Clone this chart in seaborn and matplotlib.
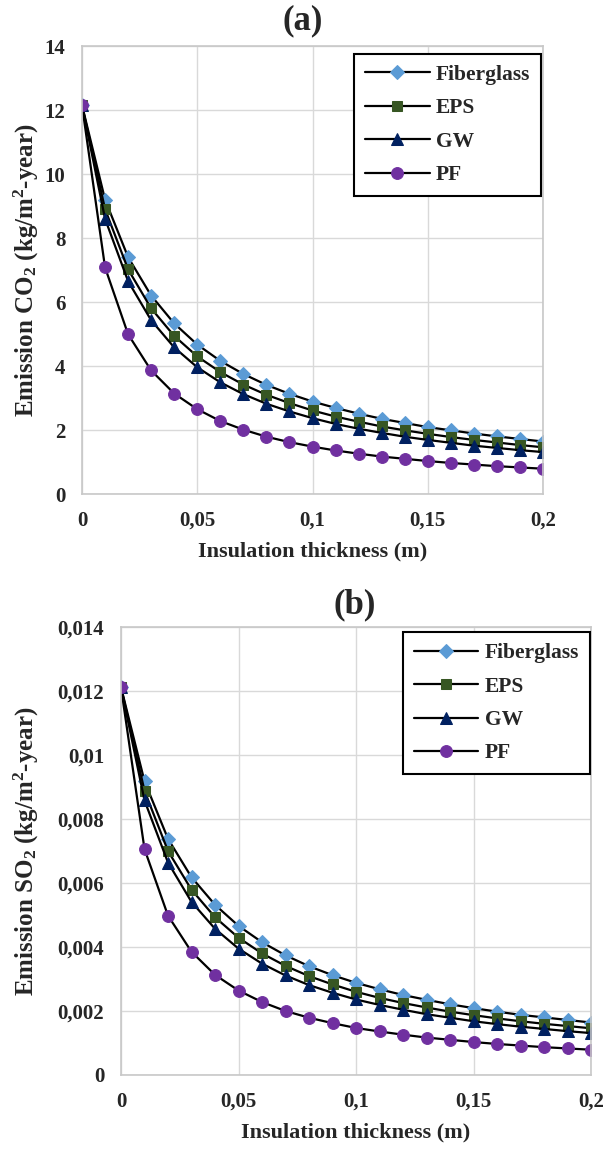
import pandas as pd
import matplotlib.pyplot as plt
import seaborn as sns
import matplotlib.ticker as ticker

#-------------------------------------------------------------------------------------
# Data (insulation thickness in m, emissions per m2 and year)
#-------------------------------------------------------------------------------------
thickness = [0, 0.01, 0.02, 0.03, 0.04, 0.05, 0.06, 0.07, 0.08, 0.09, 0.10,
             0.11, 0.12, 0.13, 0.14, 0.15, 0.16, 0.17, 0.18, 0.19, 0.20]

materials = ["Fiberglass", "EPS", "GW", "PF"]

co2_fiberglass = [12.15, 9.20, 7.40, 6.20, 5.33, 4.67, 4.16, 3.75, 3.41, 3.13, 2.89,
                  2.69, 2.51, 2.35, 2.22, 2.09, 1.99, 1.89, 1.80, 1.72, 1.64]
co2_eps = [12.15, 8.90, 7.02, 5.80, 4.94, 4.30, 3.81, 3.42, 3.10, 2.84, 2.61,
           2.42, 2.26, 2.11, 1.99, 1.88, 1.78, 1.69, 1.61, 1.53, 1.46]
co2_gw = [12.15, 8.60, 6.65, 5.43, 4.58, 3.96, 3.49, 3.12, 2.82, 2.58, 2.37,
          2.19, 2.04, 1.91, 1.79, 1.69, 1.60, 1.51, 1.44, 1.37, 1.31]
co2_pf = [12.15, 7.08, 4.99, 3.86, 3.14, 2.65, 2.28, 2.01, 1.79, 1.62, 1.48,
          1.36, 1.26, 1.17, 1.10, 1.03, 0.97, 0.92, 0.87, 0.83, 0.79]

so2_fiberglass = [0.01212, 0.00918, 0.00738, 0.00618, 0.00532, 0.00466, 0.00415, 0.00374,
                  0.00340, 0.00312, 0.00288, 0.00268, 0.00250, 0.00235, 0.00221, 0.00209,
                  0.00198, 0.00188, 0.00180, 0.00172, 0.00164]
so2_eps = [0.01212, 0.00888, 0.00700, 0.00579, 0.00493, 0.00429, 0.00380, 0.00341,
           0.00309, 0.00283, 0.00260, 0.00241, 0.00225, 0.00211, 0.00198, 0.00187,
           0.00177, 0.00168, 0.00160, 0.00153, 0.00146]
so2_gw = [0.01212, 0.00858, 0.00664, 0.00541, 0.00457, 0.00395, 0.00348, 0.00311,
          0.00281, 0.00257, 0.00236, 0.00219, 0.00204, 0.00190, 0.00179, 0.00168,
          0.00159, 0.00151, 0.00144, 0.00137, 0.00131]
so2_pf = [0.01212, 0.00706, 0.00498, 0.00385, 0.00313, 0.00264, 0.00228, 0.00200,
          0.00179, 0.00162, 0.00147, 0.00136, 0.00126, 0.00117, 0.00110, 0.00103,
          0.00097, 0.00092, 0.00087, 0.00083, 0.00079]

co2_ticks = [0, 2, 4, 6, 8, 10, 12, 14]
so2_ticks = [0, 0.002, 0.004, 0.006, 0.008, 0.01, 0.012, 0.014]
x_ticks = [0, 0.05, 0.1, 0.15, 0.2]

#-------------------------------------------------------------------------------------
# Long-form tables
#-------------------------------------------------------------------------------------
def long_table(series):
    frames = []
    for name, values in zip(materials, series):
        frames.append(pd.DataFrame({"thickness": thickness, "value": values, "material": name}))
    return pd.concat(frames, ignore_index = True)

df_co2 = long_table([co2_fiberglass, co2_eps, co2_gw, co2_pf])
df_so2 = long_table([so2_fiberglass, so2_eps, so2_gw, so2_pf])

#-------------------------------------------------------------------------------------
# Style
#-------------------------------------------------------------------------------------
sns.set_style("white")
plt.rcParams['font.family'] = ['Liberation Serif', 'DejaVu Serif']
plt.rcParams['font.weight'] = 'bold'
plt.rcParams['mathtext.fontset'] = 'custom'
plt.rcParams['mathtext.rm'] = 'Liberation Serif:bold'
plt.rcParams['mathtext.bf'] = 'Liberation Serif:bold'
plt.rcParams['mathtext.it'] = 'Liberation Serif:bold'
plt.rcParams['mathtext.default'] = 'bf'

marker_style = {
    "Fiberglass": dict(marker = "D", markersize = 7.5, markerfacecolor = "#5b9bd5", markeredgecolor = "#5b9bd5"),
    "EPS":        dict(marker = "s", markersize = 7.5, markerfacecolor = "#375623", markeredgecolor = "#375623"),
    "GW":         dict(marker = "^", markersize = 8.5, markerfacecolor = "#002060", markeredgecolor = "#002060"),
    "PF":         dict(marker = "o", markersize = 8.5, markerfacecolor = "#7030a0", markeredgecolor = "#7030a0"),
}

grid_color = "#d9d9d9"
tick_fs = 15
legend_fs = 15.5
xlab_fs = 16
ylab_fs = 18

def comma(x, pos):
    s = f"{x:.3f}".rstrip("0").rstrip(".")
    return s.replace(".", ",")

def draw_panel(ax, df, yticks, ylabel, ylab_x, leg_anchor):
    for name in materials:
        sub = df[df["material"] == name]
        sns.lineplot(data = sub, x = "thickness", y = "value", ax = ax, color = "black",
                     linewidth = 1.6, label = name, **marker_style[name])

    ax.set_xlim(0, 0.2)
    ax.set_ylim(yticks[0], yticks[-1])
    ax.set_xticks(x_ticks)
    ax.set_yticks(yticks)
    ax.xaxis.set_major_formatter(ticker.FuncFormatter(comma))
    ax.yaxis.set_major_formatter(ticker.FuncFormatter(comma))
    ax.tick_params(length = 0, pad = 12, labelsize = tick_fs)
    for lab in ax.get_xticklabels() + ax.get_yticklabels():
        lab.set_fontweight('bold')

    ax.grid(True, color = grid_color, linewidth = 1.0)
    ax.set_axisbelow(True)
    for sp in ax.spines.values():
        sp.set_color("#c8c8c8")
        sp.set_linewidth(1.2)

    # Axis titles
    ax.set_xlabel("Insulation thickness (m)", fontsize = xlab_fs, fontweight = 'bold')
    ax.set_ylabel(ylabel, fontsize = ylab_fs, fontweight = 'bold')
    ax.xaxis.set_label_coords(0.5, -0.128)
    ax.xaxis.label.set_va('center')
    ax.yaxis.set_label_coords(ylab_x, 0.5)
    ax.yaxis.label.set_va('center')

    # Legend with a plain black frame
    leg = ax.legend(loc = 'upper right', bbox_to_anchor = leg_anchor, borderaxespad = 0,
                    fontsize = legend_fs, frameon = True, fancybox = False, framealpha = 1,
                    edgecolor = "black", handlelength = 3.0, handletextpad = 0.3,
                    labelspacing = 0.62, borderpad = 0.5)
    leg.get_frame().set_linewidth(1.5)
    for t in leg.get_texts():
        t.set_fontweight('bold')

#-------------------------------------------------------------------------------------
# Figure
#-------------------------------------------------------------------------------------
fig = plt.figure(figsize = (6.14, 11.49), dpi = 100)

ax_a = fig.add_axes([82 / 614, 1 - 494 / 1149, 461 / 614, 448 / 1149])
ax_b = fig.add_axes([121 / 614, 1 - 1075 / 1149, 470 / 614, 448 / 1149])

draw_panel(ax_a, df_co2, co2_ticks, "Emission CO$_2$ (kg/m$^2$-year)", -0.12, (0.996, 0.982))
draw_panel(ax_b, df_so2, so2_ticks, "Emission SO$_2$ (kg/m$^2$-year)", -0.202, (0.998, 0.988))

# Panel titles
fig.text(303 / 614, 1 - 21 / 1149, "(a)", ha = 'center', va = 'center', fontsize = 25, fontweight = 'bold')
fig.text(355 / 614, 1 - 605 / 1149, "(b)", ha = 'center', va = 'center', fontsize = 25, fontweight = 'bold')

plt.savefig("out.png", dpi = 100)
